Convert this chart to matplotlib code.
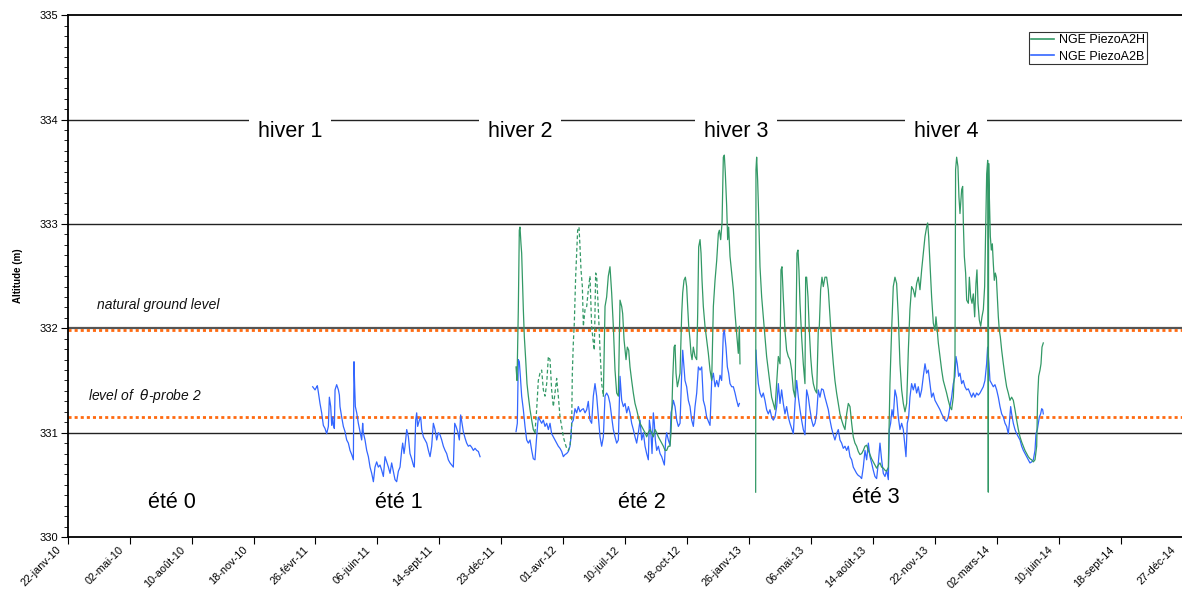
import numpy as np
import pandas as pd
import matplotlib
matplotlib.use('Agg')
import matplotlib.pyplot as plt
import matplotlib.transforms as mtransforms
from matplotlib.ticker import MultipleLocator

plt.rcParams['font.family'] = ['Liberation Sans', 'DejaVu Sans']

# ---------------- data (days since 22-janv-10, altitude m) ----------------
start = pd.Timestamp('2010-01-22')

blue_2011 = np.array([
    [395.5, 331.44], [399.3, 331.41], [402.0, 331.44], [403.0, 331.45], [404.6, 331.39], [407.3, 331.28],
    [410.0, 331.19], [412.7, 331.07], [415.4, 331.04], [418.1, 330.99], [420.8, 331.06], [422.4, 331.34],
    [424.6, 331.25], [426.2, 331.07], [427.8, 331.15], [428.9, 331.07], [430.5, 331.04], [431.6, 331.41],
    [434.2, 331.46], [437.0, 331.41], [438.6, 331.36], [439.6, 331.25], [442.3, 331.15], [445.0, 331.06],
    [447.7, 331.01], [450.4, 330.93], [453.1, 330.90], [455.8, 330.83], [458.5, 330.79], [461.2, 330.74],
    [462.2, 331.68], [463.3, 331.44], [464.4, 331.25], [466.6, 331.19], [469.2, 331.09], [471.9, 331.01],
    [474.6, 330.93], [476.2, 331.09], [477.3, 331.00], [480.0, 330.93], [482.7, 330.83], [485.4, 330.77],
    [488.1, 330.67], [490.8, 330.61], [493.5, 330.53], [496.1, 330.67], [498.8, 330.72], [501.5, 330.67],
    [504.2, 330.69], [506.9, 330.64], [509.6, 330.58], [512.3, 330.77], [515.0, 330.72], [517.7, 330.67],
    [520.4, 330.61], [523.0, 330.71], [525.7, 330.63], [528.4, 330.55], [531.1, 330.53], [533.8, 330.63],
    [536.5, 330.67], [539.2, 330.83], [540.8, 330.90], [543.0, 330.80], [544.6, 330.87], [547.3, 331.03],
    [550.0, 330.96], [552.6, 330.80], [555.3, 330.75], [558.0, 330.69], [559.6, 330.67], [561.8, 331.12],
    [563.4, 331.19], [565.0, 331.06], [567.7, 331.12], [569.9, 331.15], [571.5, 331.03], [574.2, 330.96],
    [576.9, 330.93], [579.6, 330.90], [582.3, 330.83], [585.0, 330.77], [587.6, 330.87], [590.3, 331.09],
    [593.0, 331.03], [595.7, 330.93], [598.4, 331.00], [601.1, 330.98], [603.8, 330.93], [606.5, 330.87],
    [609.2, 330.83], [611.8, 330.80], [614.5, 330.74], [617.2, 330.71], [619.9, 330.69], [622.6, 330.67],
    [624.8, 331.09], [626.9, 331.06], [629.6, 331.01], [632.3, 330.93], [634.4, 331.17], [636.6, 331.09],
    [638.7, 331.01], [641.4, 330.95], [644.1, 330.90], [646.8, 330.87], [649.5, 330.88], [652.2, 330.86],
    [654.9, 330.83], [657.6, 330.85], [660.3, 330.83], [663.0, 330.82], [665.7, 330.77],
])

blue_2012 = np.array([
    [723.8, 331.01], [725.9, 331.09], [727.5, 331.70], [729.1, 331.68], [730.8, 331.54], [732.9, 331.35],
    [735.6, 331.22], [738.3, 331.06], [741.0, 330.93], [743.7, 330.90], [746.4, 330.93], [749.1, 330.83],
    [751.7, 330.75], [754.4, 330.74], [757.1, 330.96], [759.8, 331.15], [762.5, 331.12], [765.2, 331.09],
    [767.9, 331.12], [770.6, 331.06], [773.3, 331.09], [776.0, 331.03], [778.7, 331.09], [781.3, 330.99],
    [784.0, 330.96], [786.7, 330.93], [789.4, 330.90], [792.1, 330.87], [794.8, 330.85], [797.5, 330.82],
    [800.2, 330.77], [802.9, 330.79], [805.6, 330.80], [808.3, 330.82], [810.9, 330.87], [812.6, 330.96],
    [813.6, 331.09], [816.3, 331.12], [819.0, 331.23], [821.7, 331.19], [824.4, 331.25], [827.1, 331.20],
    [829.8, 331.22], [832.5, 331.23], [835.2, 331.19], [837.9, 331.22], [840.5, 331.30], [843.2, 331.12],
    [845.9, 331.09], [848.6, 331.35], [851.3, 331.47], [854.0, 331.35], [856.7, 331.15], [859.4, 330.96],
    [862.1, 330.87], [864.8, 330.96], [867.5, 331.35], [870.1, 331.38], [872.8, 331.35], [875.5, 331.28],
    [878.2, 331.15], [880.9, 331.03], [883.6, 330.96], [886.3, 330.90], [889.0, 330.93], [891.7, 331.54],
    [894.4, 331.31], [897.1, 331.25], [899.8, 331.28], [902.5, 331.19], [905.2, 331.25], [907.8, 331.19],
    [910.5, 331.09], [913.2, 331.03], [915.9, 330.96], [918.6, 330.90], [921.3, 331.00], [924.0, 331.12],
    [926.7, 330.93], [929.4, 331.00], [932.1, 330.87], [934.7, 330.80], [937.4, 330.74], [939.1, 331.12],
    [941.2, 331.03], [943.4, 330.80], [945.5, 331.19], [947.1, 331.09], [948.7, 330.93], [950.9, 330.83],
    [953.6, 330.87], [956.3, 330.80], [959.0, 330.77], [961.7, 330.72], [963.3, 330.69], [965.4, 330.93],
    [967.0, 331.00], [969.7, 330.93], [972.4, 330.88], [974.0, 331.19], [976.2, 331.25], [977.8, 331.31],
    [980.5, 331.25], [983.2, 331.12], [985.9, 331.06], [988.6, 331.09], [991.3, 331.57], [992.9, 331.79],
    [995.0, 331.63], [996.6, 331.50], [999.3, 331.44], [1002.0, 331.31], [1004.7, 331.25], [1007.4, 331.12],
    [1010.1, 331.06], [1012.8, 331.25], [1015.5, 331.38], [1018.2, 331.63], [1020.9, 331.60], [1023.6, 331.63],
    [1026.2, 331.31], [1028.9, 331.25], [1031.6, 331.15], [1034.3, 331.11], [1037.0, 331.07], [1039.7, 331.50],
    [1042.4, 331.57], [1045.1, 331.44], [1047.8, 331.50], [1050.5, 331.44], [1053.2, 331.55], [1055.8, 331.50],
    [1058.5, 331.95], [1060.1, 331.98], [1062.8, 331.82], [1065.0, 331.63], [1067.1, 331.57], [1069.3, 331.47],
    [1072.0, 331.44], [1074.7, 331.44], [1077.4, 331.38], [1080.0, 331.31], [1082.7, 331.25], [1084.4, 331.28],
])

blue_2013 = np.array([
    [1111.2, 331.79], [1112.3, 331.66], [1115.0, 331.47], [1117.7, 331.38], [1120.4, 331.34], [1123.0, 331.38],
    [1125.7, 331.31], [1128.4, 331.22], [1131.1, 331.18], [1133.8, 331.22], [1136.5, 331.15], [1139.2, 331.12],
    [1141.9, 331.15], [1144.6, 331.25], [1147.3, 331.47], [1150.0, 331.28], [1152.6, 331.41], [1155.3, 331.28],
    [1158.0, 331.18], [1160.7, 331.25], [1163.4, 331.15], [1166.1, 331.09], [1168.8, 331.04], [1171.5, 330.99],
    [1174.2, 331.28], [1176.9, 331.50], [1179.6, 331.34], [1182.3, 331.22], [1184.9, 331.12], [1187.6, 331.03],
    [1190.3, 330.98], [1193.0, 331.41], [1195.7, 331.34], [1198.4, 331.22], [1201.1, 331.12], [1203.8, 331.06],
    [1206.5, 331.09], [1209.2, 331.18], [1211.8, 331.41], [1214.5, 331.34], [1217.2, 331.42], [1219.9, 331.41],
    [1222.6, 331.34], [1225.3, 331.28], [1228.0, 331.22], [1230.7, 331.12], [1233.4, 331.04], [1236.1, 330.98],
    [1238.7, 330.93], [1241.4, 330.99], [1244.1, 331.03], [1246.8, 330.93], [1249.5, 330.90], [1252.2, 330.85],
    [1254.9, 330.87], [1257.6, 330.83], [1260.3, 330.87], [1263.0, 330.77], [1265.7, 330.74], [1268.3, 330.67],
    [1271.0, 330.64], [1273.7, 330.61], [1276.4, 330.59], [1279.1, 330.58], [1281.8, 330.56], [1284.5, 330.67],
    [1287.2, 330.83], [1289.9, 330.74], [1292.6, 330.90], [1295.3, 330.77], [1297.9, 330.71], [1300.6, 330.64],
    [1303.3, 330.58], [1306.0, 330.56], [1308.7, 330.71], [1311.4, 330.90], [1314.1, 330.74], [1316.8, 330.61],
    [1319.5, 330.58], [1322.2, 330.64], [1324.9, 330.55], [1326.5, 331.03], [1328.6, 331.09], [1330.8, 331.22],
    [1332.9, 331.15], [1335.6, 331.41], [1338.3, 331.34], [1341.0, 331.15], [1343.7, 331.03], [1346.4, 331.09],
    [1349.1, 331.03], [1351.8, 330.87], [1353.4, 330.77], [1355.5, 331.09], [1357.7, 331.15], [1359.8, 331.34],
    [1362.5, 331.47], [1365.2, 331.41], [1367.9, 331.47], [1370.6, 331.38], [1373.3, 331.44], [1376.0, 331.34],
    [1378.7, 331.41], [1381.4, 331.54], [1384.1, 331.66], [1386.7, 331.57], [1389.4, 331.60], [1392.1, 331.47],
    [1394.8, 331.34], [1397.5, 331.38], [1400.2, 331.31], [1402.9, 331.28], [1405.6, 331.25], [1408.3, 331.22],
    [1411.0, 331.18], [1413.6, 331.15], [1416.3, 331.12], [1419.0, 331.11], [1421.7, 331.15], [1424.4, 331.25],
    [1427.1, 331.34], [1429.8, 331.47], [1432.5, 331.54], [1434.1, 331.73], [1436.2, 331.66], [1438.4, 331.54],
    [1440.6, 331.57], [1443.3, 331.47], [1445.9, 331.50], [1448.6, 331.44], [1451.3, 331.41], [1454.0, 331.42],
    [1456.7, 331.38], [1459.4, 331.34], [1462.1, 331.38], [1464.8, 331.34], [1467.5, 331.38], [1470.2, 331.36],
    [1472.9, 331.38], [1475.5, 331.41], [1478.2, 331.44], [1480.9, 331.50], [1483.6, 331.66], [1485.2, 331.82],
    [1487.4, 331.66], [1489.0, 331.50], [1491.7, 331.47], [1494.4, 331.44], [1497.1, 331.46], [1499.8, 331.41],
    [1502.5, 331.34], [1505.2, 331.25], [1507.9, 331.18], [1510.6, 331.15], [1513.3, 331.09], [1515.9, 331.06],
    [1518.6, 330.99], [1520.3, 331.09], [1522.4, 331.25], [1524.0, 331.18], [1526.7, 331.09], [1529.4, 331.03],
    [1532.1, 330.99], [1534.8, 330.96], [1537.5, 330.93], [1540.2, 330.87], [1542.9, 330.83], [1545.5, 330.80],
    [1548.2, 330.77], [1550.9, 330.74], [1553.6, 330.71], [1556.3, 330.72], [1559.0, 330.74], [1561.7, 330.83],
    [1563.3, 330.99], [1565.5, 331.03], [1567.1, 331.09], [1568.7, 331.15], [1570.8, 331.18], [1572.5, 331.23],
    [1574.1, 331.22], [1575.1, 331.18],
])

green_2012a = np.array([
    [723.8, 331.63], [725.4, 331.50], [727.5, 332.18], [729.1, 332.94], [730.2, 332.97], [731.8, 332.81],
    [732.9, 332.72], [734.0, 332.50], [735.6, 332.18], [737.2, 331.92], [739.4, 331.70], [741.5, 331.47],
    [743.7, 331.35], [746.4, 331.22], [749.1, 331.12], [751.7, 331.03], [754.4, 331.00],
])

green_2012_gappy = np.array([
    [754.4, 331.00], [757.1, 331.22], [759.8, 331.50], [762.5, 331.57], [765.2, 331.60], [767.9, 331.41],
    [770.6, 331.35], [773.3, 331.47], [776.0, 331.73], [778.7, 331.70], [781.3, 331.41], [784.0, 331.25],
    [786.7, 331.38], [789.4, 331.52], [792.1, 331.35], [794.8, 331.15], [797.5, 331.06], [800.2, 330.96],
    [802.9, 330.90], [805.6, 330.85], [808.3, 330.83], [810.9, 330.87], [813.6, 331.06], [814.7, 331.57],
    [816.3, 331.86], [817.9, 332.05], [820.1, 332.50], [821.7, 332.72], [823.3, 332.94], [825.5, 332.97],
    [827.1, 332.78], [828.7, 332.56], [830.9, 332.40], [832.5, 332.02], [835.2, 332.18], [837.9, 332.21],
    [840.5, 332.37], [843.2, 332.50], [845.9, 332.02], [848.6, 331.86], [850.2, 331.79], [852.4, 332.53],
    [854.0, 332.50], [856.7, 332.18], [859.4, 331.79], [862.1, 331.47], [864.8, 331.35],
])

green_2012b = np.array([
    [864.8, 331.35], [867.5, 332.21], [870.1, 332.30], [872.8, 332.50], [875.5, 332.59], [878.2, 332.34],
    [880.9, 332.02], [883.6, 331.60], [886.3, 331.38], [889.0, 331.35], [891.7, 332.27], [894.4, 332.21],
    [896.0, 332.14], [898.2, 331.89], [901.4, 331.70], [903.5, 331.82], [905.7, 331.79], [907.8, 331.63],
    [910.5, 331.50], [913.2, 331.38], [915.9, 331.28], [918.6, 331.22], [921.3, 331.15], [924.0, 331.09],
    [926.7, 331.06], [929.4, 331.03], [932.1, 331.00], [934.7, 330.96], [937.4, 331.00], [940.1, 331.03],
    [942.8, 331.00], [945.5, 330.96], [948.2, 331.03], [950.9, 331.00], [953.6, 330.96], [956.3, 330.93],
    [959.0, 330.90], [961.7, 330.87], [964.4, 330.83], [967.0, 330.83], [969.7, 330.87], [972.4, 330.87],
    [974.0, 331.00], [975.6, 331.25], [976.7, 331.50], [978.9, 331.82], [980.5, 331.84], [982.1, 331.57],
    [984.3, 331.44], [986.4, 331.50], [988.6, 331.57], [991.3, 332.14], [992.9, 332.34], [995.0, 332.46],
    [997.2, 332.49], [999.3, 332.40], [1000.9, 332.21], [1002.6, 332.02], [1004.7, 331.89], [1006.3, 331.76],
    [1008.0, 331.70], [1010.1, 331.82], [1012.8, 331.73], [1015.5, 331.70], [1017.1, 332.14], [1018.7, 332.78],
    [1020.9, 332.85], [1022.5, 332.72], [1024.1, 332.46], [1026.2, 332.21], [1028.9, 332.02], [1031.6, 331.89],
    [1034.3, 331.76], [1037.0, 331.60], [1039.7, 331.50], [1042.4, 332.21], [1045.1, 332.46], [1047.8, 332.65],
    [1050.5, 332.91], [1052.1, 332.94], [1054.2, 332.85], [1056.4, 333.01], [1058.5, 333.64], [1060.1, 333.66],
    [1061.7, 333.49], [1063.9, 333.17], [1065.5, 332.85], [1067.1, 332.97], [1069.3, 332.69], [1072.0, 332.53],
    [1074.7, 332.37], [1077.4, 332.14], [1080.0, 331.95], [1082.7, 331.76], [1084.4, 332.02], [1085.4, 331.66],
])

green_2013 = np.array([
    [1110.7, 330.43], [1111.2, 333.52], [1112.3, 333.64], [1113.9, 333.42], [1115.5, 333.10], [1117.7, 332.59],
    [1120.4, 332.30], [1123.0, 332.11], [1125.7, 331.92], [1128.4, 331.73], [1131.1, 331.60], [1133.8, 331.47],
    [1136.5, 331.34], [1139.2, 331.28], [1141.9, 331.22], [1144.6, 331.47], [1147.3, 331.73], [1150.0, 331.66],
    [1151.6, 332.56], [1153.2, 332.59], [1155.3, 332.30], [1158.0, 331.98], [1160.7, 331.79], [1163.4, 331.73],
    [1166.1, 331.70], [1168.8, 331.60], [1171.5, 331.41], [1174.2, 331.34], [1175.8, 331.98], [1177.4, 332.72],
    [1179.0, 332.75], [1180.6, 332.56], [1182.3, 332.24], [1184.9, 331.92], [1187.6, 331.66], [1190.3, 331.47],
    [1191.4, 332.49], [1193.0, 332.49], [1195.2, 332.30], [1197.3, 331.98], [1199.5, 331.73], [1201.6, 331.57],
    [1203.8, 331.47], [1206.5, 331.41], [1209.2, 331.38], [1211.8, 331.98], [1213.5, 332.02], [1215.6, 332.37],
    [1217.8, 332.49], [1219.9, 332.40], [1222.6, 332.49], [1225.3, 332.49], [1228.0, 332.37], [1230.7, 332.11],
    [1233.4, 331.86], [1236.1, 331.66], [1238.7, 331.50], [1241.4, 331.38], [1244.1, 331.28], [1246.8, 331.18],
    [1249.5, 331.12], [1252.2, 331.07], [1254.9, 331.03], [1257.6, 331.18], [1260.3, 331.28], [1263.0, 331.25],
    [1265.7, 331.09], [1268.3, 330.96], [1271.0, 330.90], [1273.7, 330.87], [1276.4, 330.82], [1279.1, 330.79],
    [1281.8, 330.80], [1284.5, 330.83], [1287.2, 330.87], [1289.9, 330.88], [1292.6, 330.83], [1295.3, 330.79],
    [1297.9, 330.75], [1300.6, 330.72], [1303.3, 330.69], [1306.0, 330.66], [1308.7, 330.69], [1311.4, 330.71],
    [1314.1, 330.67], [1316.8, 330.66], [1319.5, 330.64], [1322.2, 330.63], [1324.9, 330.67], [1327.5, 331.47],
    [1330.2, 331.98], [1332.9, 332.40], [1335.6, 332.49], [1338.3, 332.43], [1341.0, 332.11], [1343.7, 331.66],
    [1346.4, 331.41], [1349.1, 331.28], [1351.8, 331.20], [1354.5, 331.28], [1357.2, 331.79], [1359.8, 332.18],
    [1362.5, 332.40], [1365.2, 332.37], [1367.9, 332.30], [1370.6, 332.43], [1373.3, 332.49], [1376.0, 332.37],
    [1378.7, 332.56], [1381.4, 332.72], [1384.1, 332.88], [1386.7, 332.97], [1388.4, 333.01], [1390.0, 332.88],
    [1392.1, 332.62], [1394.8, 332.30], [1397.5, 332.05], [1400.2, 331.98], [1401.8, 332.11], [1403.9, 331.98],
    [1405.6, 331.86], [1408.3, 331.73], [1411.0, 331.60], [1413.6, 331.50], [1416.3, 331.44], [1419.0, 331.38],
    [1421.7, 331.31], [1424.4, 331.25], [1427.1, 331.22], [1429.8, 331.34], [1432.5, 331.70], [1433.5, 333.52],
    [1435.2, 333.64], [1437.3, 333.55], [1438.9, 333.26], [1440.6, 333.10], [1443.3, 333.33], [1444.9, 333.36],
    [1446.0, 333.01], [1447.6, 332.69], [1449.7, 332.53], [1451.4, 332.27], [1454.1, 332.24], [1455.7, 332.49],
    [1457.8, 332.30], [1460.0, 332.24], [1462.1, 332.33], [1464.3, 332.11], [1466.4, 332.43], [1468.0, 332.56],
    [1469.7, 332.24], [1471.8, 332.08], [1474.0, 332.02], [1476.1, 332.11], [1478.3, 332.18], [1480.4, 332.40],
    [1482.0, 332.94], [1483.7, 333.48], [1485.3, 333.61], [1486.3, 330.43], [1486.9, 333.58], [1488.0, 333.26],
    [1489.6, 332.88], [1491.2, 332.75], [1492.8, 332.81], [1494.4, 332.62], [1496.0, 332.46], [1497.6, 332.53],
    [1499.3, 332.49], [1500.9, 332.30], [1502.5, 332.11], [1504.1, 331.98], [1505.7, 331.92], [1507.9, 331.79],
    [1510.6, 331.66], [1513.3, 331.54], [1515.9, 331.44], [1518.6, 331.38], [1521.3, 331.31], [1524.0, 331.34],
    [1526.7, 331.31], [1529.4, 331.22], [1532.1, 331.12], [1534.8, 331.03], [1537.5, 330.96], [1540.2, 330.91],
    [1542.9, 330.87], [1545.5, 330.83], [1548.2, 330.80], [1550.9, 330.77], [1553.6, 330.75], [1556.3, 330.74],
    [1559.0, 330.72], [1561.7, 330.74], [1564.4, 330.87], [1566.0, 331.34], [1567.6, 331.54], [1569.8, 331.60],
    [1571.4, 331.66], [1573.0, 331.82], [1575.1, 331.86],
])

ground_level = 331.98
probe_level = 331.15
grid_levels = [331, 332, 333, 334]

winter_labels = ['hiver 1', 'hiver 2', 'hiver 3', 'hiver 4']
winter_days = [359, 730, 1079, 1418]
winter_alt = [333.89, 333.89, 333.89, 333.89]

summer_labels = ['été 0', 'été 1', 'été 2', 'été 3']
summer_days = [168, 534, 927, 1305]
summer_alt = [330.33, 330.33, 330.33, 330.38]

tick_dates = ['2010-01-22', '2010-05-02', '2010-08-10', '2010-11-18', '2011-02-26', '2011-06-06',
              '2011-09-14', '2011-12-23', '2012-04-01', '2012-07-10', '2012-10-18', '2013-01-26',
              '2013-05-06', '2013-08-14', '2013-11-22', '2014-03-02', '2014-06-10', '2014-09-18',
              '2014-12-27']
tick_labels = ['22-janv-10', '02-mai-10', '10-août-10', '18-nov-10', '26-févr-11', '06-juin-11',
               '14-sept-11', '23-déc-11', '01-avr-12', '10-juil-12', '18-oct-12', '26-janv-13',
               '06-mai-13', '14-août-13', '22-nov-13', '02-mars-14', '10-juin-14', '18-sept-14',
               '27-déc-14']


def to_dates(days):
    return start + pd.to_timedelta(np.asarray(days, dtype=float), unit='D')


GREEN = '#339966'
BLUE = '#3366ff'
ORANGE = '#ff6a10'

fig = plt.figure(figsize=(11.82, 5.90), dpi=100)
ax = fig.add_axes([0.0573, 0.0898, 0.9432, 0.8843])

# grid / reference lines
for lv in grid_levels:
    ax.axhline(lv, color='#555555' if lv == 332 else '#222222',
               lw=1.6 if lv == 332 else 1.0, zorder=1)
ax.axhline(ground_level, color=ORANGE, lw=2.0, ls=(0, (1.1, 1.1)), zorder=2)
ax.axhline(probe_level, color=ORANGE, lw=2.0, ls=(0, (1.1, 1.1)), zorder=2)

# series
lw = 0.9
for seg in (blue_2011, blue_2012, blue_2013):
    ax.plot(to_dates(seg[:, 0]), seg[:, 1], color=BLUE, lw=lw, zorder=3)
ax.plot(to_dates(green_2012a[:, 0]), green_2012a[:, 1], color=GREEN, lw=lw, zorder=4)
ax.plot(to_dates(green_2012_gappy[:, 0]), green_2012_gappy[:, 1], color=GREEN, lw=lw,
        ls=(0, (3, 2)), zorder=4)
ax.plot(to_dates(green_2012b[:, 0]), green_2012b[:, 1], color=GREEN, lw=lw, zorder=4)
ax.plot(to_dates(green_2013[:, 0]), green_2013[:, 1], color=GREEN, lw=lw, zorder=4)

# legend proxies
h1, = ax.plot([], [], color=GREEN, lw=1.2, label='NGE PiezoA2H')
h2, = ax.plot([], [], color=BLUE, lw=1.2, label='NGE PiezoA2B')
leg = ax.legend(handles=[h1, h2], loc='upper right', bbox_to_anchor=(0.9678, 0.9674),
                borderaxespad=0, fontsize=9, frameon=True, fancybox=False,
                handlelength=1.9, handletextpad=0.35, borderpad=0.15, labelspacing=0.35)
leg.get_frame().set_edgecolor('black')
leg.get_frame().set_linewidth(0.8)

# annotations
for lab, d, a in zip(winter_labels, winter_days, winter_alt):
    ax.text(to_dates([d])[0], a, lab, ha='center', va='center', fontsize=15.5,
            bbox=dict(facecolor='white', edgecolor='none', pad=6), zorder=6)
for lab, d, a in zip(summer_labels, summer_days, summer_alt):
    ax.text(to_dates([d])[0], a, lab, ha='center', va='center', fontsize=15.5, zorder=6)

ax.text(to_dates([47])[0], 332.22, 'natural ground level', style='italic', fontsize=10,
        ha='left', va='center', color='#111111')
ax.text(to_dates([33])[0], 331.35, r'level of  $\theta$-probe 2', style='italic', fontsize=10,
        ha='left', va='center', color='#111111')

# axes
ax.set_xlim(to_dates([0])[0], pd.Timestamp(tick_dates[-1]))
ax.set_ylim(330, 335)
ax.set_xticks(pd.to_datetime(tick_dates))
ax.set_xticklabels(tick_labels, rotation=45, ha='right', va='center',
                   rotation_mode='anchor', fontsize=7.8)
ax.yaxis.set_major_locator(MultipleLocator(1))
ax.yaxis.set_minor_locator(MultipleLocator(0.1))
ax.tick_params(axis='y', which='major', direction='out', length=5, labelsize=8, pad=2)
ax.tick_params(axis='y', which='minor', direction='out', length=3)
ax.tick_params(axis='x', which='major', direction='out', length=5, pad=3)
ax.set_ylabel('Altitude (m)', fontsize=7, fontweight='bold', labelpad=12)
for s in ax.spines.values():
    s.set_linewidth(1.3)
    s.set_color('black')

# shift the rotated date labels a little to the left (as in the original)
fig.canvas.draw()
shift = mtransforms.ScaledTranslation(-0.08, 0.0, fig.dpi_scale_trans)
for tick in ax.xaxis.get_major_ticks():
    tick.label1.set_transform(tick.label1.get_transform() + shift)

fig.savefig('out.png', dpi=100)
